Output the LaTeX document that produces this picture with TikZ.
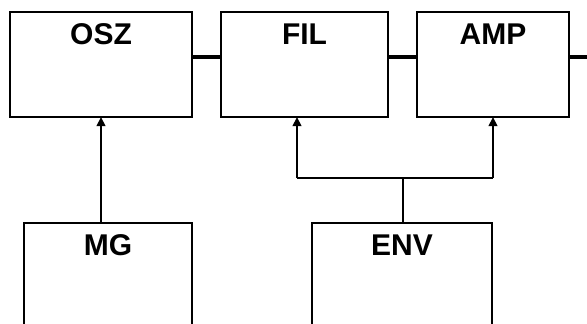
\documentclass[tikz,border=0pt]{standalone}
\usepackage{fontspec}
\setsansfont{Liberation Sans}
\usetikzlibrary{arrows.meta}
\tikzset{
  box/.style={draw, line width=2.5pt, fill=white, outer sep=0pt, inner sep=0pt, anchor=north west},
  lab/.style={font=\sffamily\bfseries\fontsize{30}{30}\selectfont, anchor=base, yshift=-32pt, inner sep=0pt},
  bus/.style={line width=4.8pt},
  ctrl/.style={line width=2.1pt, -{Triangle[width=8.5pt,length=9pt]}},
  wire/.style={line width=2.1pt}
}
\begin{document}
\begin{tikzpicture}[x=1pt,y=-1pt]
\useasboundingbox (0,0) rectangle (587,324);
\begin{scope}
\clip (0,0) rectangle (587,324);
\node[box, minimum width=182pt, minimum height=105pt, label={[lab]north:OSZ}] (osz) at (10,12) {};
\node[box, minimum width=167pt, minimum height=105pt, label={[lab]north:FIL}] (fil) at (221,12) {};
\node[box, minimum width=152pt, minimum height=105pt, label={[lab]north:AMP}] (amp) at (417,12) {};
\node[box, minimum width=168pt, minimum height=130pt, label={[lab]north:MG}] (mg) at (24,223) {};
\node[box, minimum width=180pt, minimum height=130pt, label={[lab]north:ENV}] (env) at (312,223) {};
\coordinate (out) at (590,57);
\coordinate (join) at (403,178);
\coordinate (filin) at (297,178);
\coordinate (ampin) at (493,178);
\draw[bus] (osz.east |- 0,57) -- (fil.west |- 0,57);
\draw[bus] (fil.east |- 0,57) -- (amp.west |- 0,57);
\draw[bus] (amp.east |- 0,57) -- (out);
\draw[ctrl] (osz.south |- mg.north) -- (osz.south);
\draw[wire] (env.north -| join) -- (join);
\draw[wire] (filin) -- (ampin);
\draw[ctrl] (filin) -- (filin |- fil.south);
\draw[ctrl] (ampin) -- (ampin |- amp.south);
\end{scope}
\end{tikzpicture}
\end{document}
